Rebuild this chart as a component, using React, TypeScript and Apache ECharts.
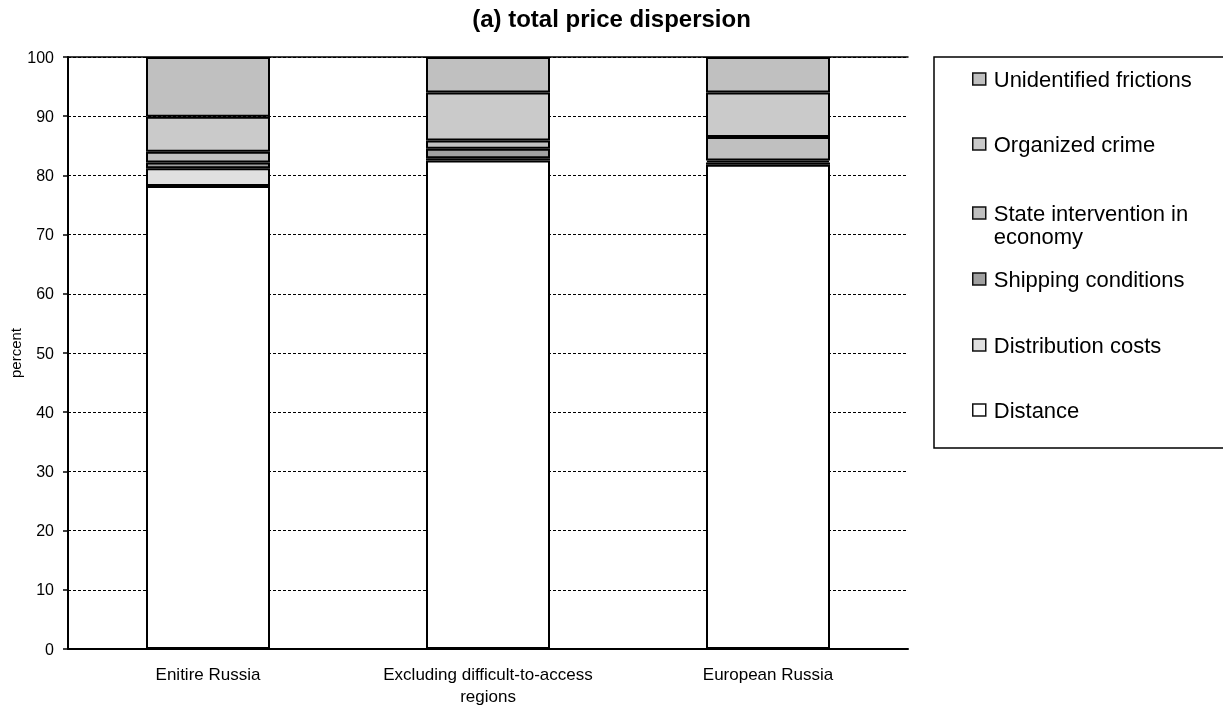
import React, { useEffect, useRef } from "react";
import * as echarts from "echarts";

const categories = ["Enitire Russia", "Excluding difficult-to-access\nregions", "European Russia"];
const distance = [78.2, 82.5, 81.8];
const distributionCosts = [3.0, 0.4, 0.4];
const shippingConditions = [1.0, 1.6, 0.3];
const stateIntervention = [1.8, 1.4, 4.0];
const organizedCrime = [5.9, 8.1, 7.5];
const unidentifiedFrictions = [10.1, 6.0, 6.0];

const seriesNames = [
  "Distance",
  "Distribution costs",
  "Shipping conditions",
  "State intervention in economy",
  "Organized crime",
  "Unidentified frictions",
];
const seriesValues = [distance, distributionCosts, shippingConditions, stateIntervention, organizedCrime, unidentifiedFrictions];
const seriesColors = ["#ffffff", "#e0e0e0", "#a0a0a0", "#c0c0c0", "#cacaca", "#c0c0c0"];

const legendOrder = [
  { name: "Unidentified frictions", c: 79 },
  { name: "Organized crime", c: 144 },
  { name: "State intervention in economy", c: 213, two: true },
  { name: "Shipping conditions", c: 279 },
  { name: "Distribution costs", c: 345 },
  { name: "Distance", c: 410 },
];

const FONT = "'Liberation Sans', Arial, sans-serif";

export default function App() {
  const ref = useRef<HTMLDivElement>(null);
  useEffect(() => {
    if (!ref.current) return;
    const chart = echarts.init(ref.current, null, { renderer: "svg" });
    const LH = 23;
    const legends = legendOrder.map((l) => ({
      data: [l.name],
      orient: "vertical",
      left: 972,
      top: l.two ? l.c - 1.5 * LH : l.c - LH / 2,
      padding: 0,
      itemWidth: 13,
      itemHeight: 12,
      icon: "rect",
      selectedMode: false,
      itemStyle: { borderColor: "#111", borderWidth: 1.5 },
      formatter: l.two ? () => " \nState intervention in\neconomy" : undefined,
      textStyle: {
        fontFamily: FONT,
        fontSize: 22,
        color: "#000",
        lineHeight: LH,
        padding: [0, 0, 0, 3],
      },
    }));
    chart.setOption({
      animation: false,
      title: {
        text: "(a) total price dispersion",
        left: "center",
        top: 1,
        textStyle: { fontFamily: FONT, fontSize: 24, fontWeight: "bold", color: "#000" },
      },
      legend: legends,
      graphic: [
        {
          type: "rect",
          shape: { x: 934, y: 57, width: 300, height: 391 },
          style: { fill: "none", stroke: "#000", lineWidth: 1.5 },
          z: -1,
        },
      ],
      grid: { left: 68, right: 315, top: 57, bottom: 62, outerBoundsMode: "none", containLabel: false },
      xAxis: [
        {
          type: "category",
          data: categories,
          axisLine: { show: true, lineStyle: { color: "#000", width: 2 } },
          axisTick: { show: false },
          axisLabel: { fontFamily: FONT, fontSize: 17, color: "#000", lineHeight: 22, margin: 14, interval: 0 },
        },
        {
          type: "category",
          data: categories,
          position: "top",
          axisLine: { show: true, lineStyle: { color: "#000", width: 1.5 } },
          axisTick: { show: false },
          axisLabel: { show: false },
        },
      ],
      yAxis: {
        type: "value",
        min: 0,
        max: 100,
        interval: 10,
        name: "percent",
        nameLocation: "middle",
        nameGap: 45,
        nameMoveOverlap: false,
        nameTextStyle: { fontFamily: FONT, fontSize: 15, color: "#000" },
        axisLine: { show: true, lineStyle: { color: "#000", width: 2 } },
        axisTick: { show: true, length: 5, lineStyle: { color: "#000", width: 1.5 } },
        axisLabel: { fontFamily: FONT, fontSize: 16, color: "#000", margin: 14 },
        splitLine: { show: true, lineStyle: { color: "#000", width: 1, type: [3, 2] } },
      },
      series: seriesNames.map((name, i) => ({
        name,
        type: "bar",
        stack: "total",
        xAxisIndex: 0,
        barWidth: 124,
        data: seriesValues[i],
        itemStyle: { color: seriesColors[i], borderColor: "#000", borderWidth: 2 },
        emphasis: { disabled: true },
      })),
    });
    return () => chart.dispose();
  }, []);
  return <div ref={ref} style={{ position: "fixed", left: 0, top: 0, width: 1223, height: 711 }} />;
}
